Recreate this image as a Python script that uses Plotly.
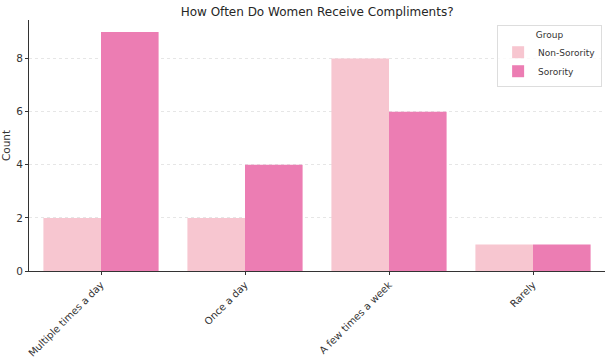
import plotly.graph_objects as go

categories = ["Multiple times a day", "Once a day", "A few times a week", "Rarely"]
non_sorority = [2, 2, 8, 1]
sorority = [9, 4, 6, 1]
y_ticks = [0, 2, 4, 6, 8]

font = "DejaVu Sans, Liberation Sans, sans-serif"

fig = go.Figure()
fig.add_trace(go.Bar(x=categories, y=non_sorority, name="Non-Sorority",
                     marker=dict(color="#F7C6D0", line=dict(width=0))))
fig.add_trace(go.Bar(x=categories, y=sorority, name="Sorority",
                     marker=dict(color="#EC7DB3", line=dict(width=0))))

fig.update_layout(
    width=611, height=361,
    margin=dict(l=29, r=6, t=20, b=90),
    paper_bgcolor="white", plot_bgcolor="white",
    barmode="group", bargap=0.2, bargroupgap=0,
    font=dict(family=font, size=11, color="#333333"),
    title=dict(text="How Often Do Women Receive Compliments?", x=0.519, xanchor="center",
               y=0.968, yanchor="middle", font=dict(size=12, color="#262626")),
    showlegend=True,
    legend=dict(title=dict(text="Group", side="top center", font=dict(size=9)),
                font=dict(size=9), x=0.995, xanchor="right", y=0.98, yanchor="top",
                itemwidth=30, tracegroupgap=0,
                bgcolor="rgba(255,255,255,0.8)", bordercolor="#DDDDDD", borderwidth=1),
    xaxis=dict(range=[-0.5, 3.5], tickangle=-45, showline=True, linecolor="#333333",
               linewidth=1, ticks="outside", ticklen=3, tickcolor="#333333",
               tickfont=dict(size=10), showgrid=False, automargin=False),
    yaxis=dict(range=[0, 9.45], tickvals=y_ticks, showline=True, linecolor="#333333",
               linewidth=1, ticks="outside", ticklen=3, tickcolor="#333333",
               showgrid=True, gridcolor="#E6E6E6", griddash="dot", gridwidth=1,
               zeroline=False, automargin=False,
               title=dict(text="Count", font=dict(size=10.5), standoff=4),
               tickfont=dict(size=10.5)),
)

fig.write_html("out.html", config={"displayModeBar": False},
               post_script="document.body.style.margin='0';")
